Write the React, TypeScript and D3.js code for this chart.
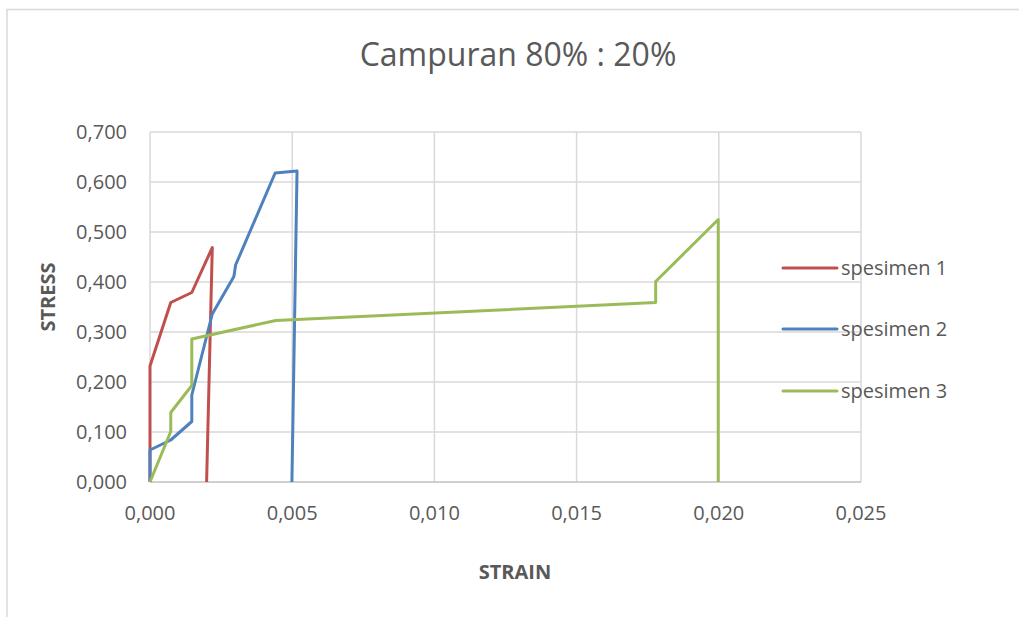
import React, { useEffect, useRef } from "react";
import { select, scaleLinear, line, range } from "d3";

// strain / stress pairs
const strain1 = [0, 0, 0.00073, 0.00147, 0.00219, 0.00199];
const stress1 = [0, 0.232, 0.359, 0.379, 0.469, 0];

const strain2 = [0, 0, 0.00073, 0.00147, 0.00147, 0.00219, 0.00295, 0.00301, 0.0044, 0.00517, 0.00499];
const stress2 = [0, 0.064, 0.084, 0.121, 0.174, 0.336, 0.411, 0.434, 0.618, 0.622, 0];

const strain3 = [0, 0.00073, 0.00073, 0.00147, 0.00147, 0.00442, 0.01778, 0.01778, 0.01998, 0.01998];
const stress3 = [0, 0.101, 0.139, 0.193, 0.286, 0.323, 0.359, 0.401, 0.525, 0];

const seriesNames = ["spesimen 1", "spesimen 2", "spesimen 3"];
const seriesColors = ["#c0504d", "#4f81bd", "#9bbb59"];

const xTicks = range(0, 0.0251, 0.005);
const yTicks = range(0, 0.701, 0.1);

const W = 1019;
const H = 617;
const FONT = "'Open Sans', sans-serif";

const App = () => {
  const svgRef = useRef<SVGSVGElement>(null);

  useEffect(() => {
    const svg = select(svgRef.current);
    svg.selectAll("*").remove();

    const x = scaleLinear().domain([0, 0.025]).range([150, 861]);
    const y = scaleLinear().domain([0, 0.7]).range([482, 132]);

    // chart frame
    svg
      .append("rect")
      .attr("x", 7)
      .attr("y", 9.5)
      .attr("width", W + 20)
      .attr("height", H + 20)
      .attr("fill", "#fff")
      .attr("stroke", "#d9d9d9")
      .attr("stroke-width", 1.5);

    // grid
    svg
      .append("g")
      .selectAll("line")
      .data(yTicks.slice(1))
      .enter()
      .append("line")
      .attr("x1", x(0))
      .attr("x2", x(0.025))
      .attr("y1", (d: number) => y(d))
      .attr("y2", (d: number) => y(d))
      .attr("stroke", "#d9d9d9")
      .attr("stroke-width", 1.5);

    svg
      .append("g")
      .selectAll("line")
      .data(xTicks)
      .enter()
      .append("line")
      .attr("x1", (d: number) => x(d))
      .attr("x2", (d: number) => x(d))
      .attr("y1", y(0))
      .attr("y2", y(0.7))
      .attr("stroke", "#d9d9d9")
      .attr("stroke-width", 1.5);

    // x axis line
    svg
      .append("line")
      .attr("x1", x(0))
      .attr("x2", x(0.025))
      .attr("y1", y(0))
      .attr("y2", y(0))
      .attr("stroke", "#bfbfbf")
      .attr("stroke-width", 1.5);

    const fmt = (v: number) => v.toFixed(3).replace(".", ",");

    svg
      .append("g")
      .selectAll("text")
      .data(yTicks)
      .enter()
      .append("text")
      .attr("x", 127)
      .attr("y", (d: number) => y(d) + 7)
      .attr("text-anchor", "end")
      .attr("font-family", FONT)
      .attr("font-size", 20)
      .attr("fill", "#595959")
      .text((d: number) => fmt(d));

    svg
      .append("g")
      .selectAll("text")
      .data(xTicks)
      .enter()
      .append("text")
      .attr("x", (d: number) => x(d))
      .attr("y", 520)
      .attr("text-anchor", "middle")
      .attr("font-family", FONT)
      .attr("font-size", 20)
      .attr("fill", "#595959")
      .text((d: number) => fmt(d));

    // series
    const lineGen = line<[number, number]>()
      .x((d) => x(d[0]))
      .y((d) => y(d[1]));

    const series = [
      strain1.map((s, i) => [s, stress1[i]] as [number, number]),
      strain2.map((s, i) => [s, stress2[i]] as [number, number]),
      strain3.map((s, i) => [s, stress3[i]] as [number, number]),
    ];

    series.forEach((pts, i) => {
      svg
        .append("path")
        .attr("d", lineGen(pts))
        .attr("fill", "none")
        .attr("stroke", seriesColors[i])
        .attr("stroke-width", 3)
        .attr("stroke-linejoin", "round");
    });

    // titles
    svg
      .append("text")
      .attr("x", 518)
      .attr("y", 66)
      .attr("text-anchor", "middle")
      .attr("font-family", FONT)
      .attr("font-size", 32)
      .attr("fill", "#595959")
      .text("Campuran 80% : 20%");

    svg
      .append("text")
      .attr("x", 515)
      .attr("y", 579)
      .attr("text-anchor", "middle")
      .attr("font-family", FONT)
      .attr("font-size", 20)
      .attr("font-weight", "bold")
      .attr("fill", "#595959")
      .text("STRAIN");

    svg
      .append("text")
      .attr("transform", "translate(55,297) rotate(-90)")
      .attr("text-anchor", "middle")
      .attr("font-family", FONT)
      .attr("font-size", 20)
      .attr("font-weight", "bold")
      .attr("fill", "#595959")
      .text("STRESS");

    // legend
    const legendY = [268, 329, 391];
    seriesNames.forEach((name, i) => {
      svg
        .append("line")
        .attr("x1", 783)
        .attr("x2", 837)
        .attr("y1", legendY[i])
        .attr("y2", legendY[i])
        .attr("stroke", seriesColors[i])
        .attr("stroke-width", 3)
        .attr("stroke-linecap", "round");
      svg
        .append("text")
        .attr("x", 841)
        .attr("y", legendY[i] + 7)
        .attr("font-family", FONT)
        .attr("font-size", 20)
        .attr("fill", "#595959")
        .text(name);
    });
  }, []);

  return (
    <svg
      ref={svgRef}
      width={W}
      height={H}
      style={{ position: "absolute", left: 0, top: 0, background: "#fff" }}
    ></svg>
  );
};

export default App;
